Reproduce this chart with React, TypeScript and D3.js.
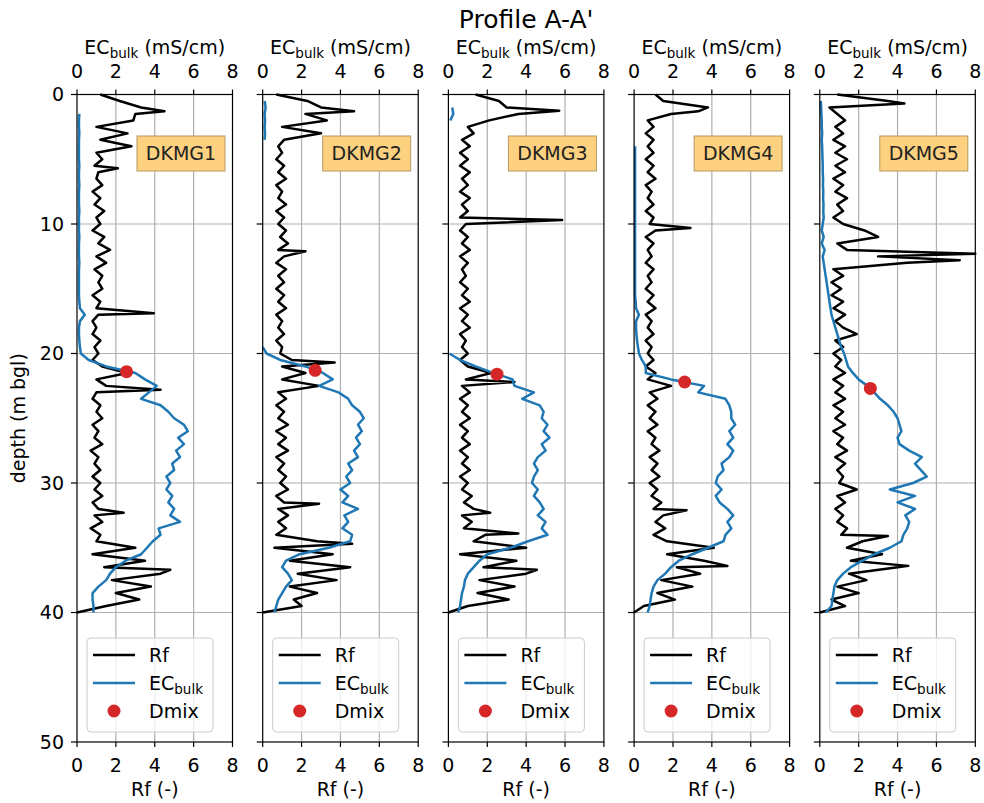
import React from 'react';
import * as d3 from 'd3';

// logs are read every 0.5 m from 0 to 40 m depth
const depthStep = 0.5;
const wells = ['DKMG1', 'DKMG2', 'DKMG3', 'DKMG4', 'DKMG5'];
const xTicks = [0, 2, 4, 6, 8];
const depthTicks = [0, 10, 20, 30, 40, 50];

const rf1 = [
  1.2, 2.2, 3.3, 3.0, 2.9, 1.0, 2.6, 1.2, 2.8, 1.0,
  1.3, 0.9, 1.1, 1.0, 1.3, 0.8, 1.2, 0.9, 1.4, 1.0,
  1.2, 0.8, 1.4, 1.1, 1.7, 1.0, 1.5, 0.9, 1.3, 1.1,
  1.3, 0.8, 1.2, 1.0, 1.1, 0.8, 1.0, 0.8, 1.2, 0.9,
  1.1, 0.8, 1.3, 2.6, 1.0, 1.5, 1.0, 0.8, 1.2, 1.0,
  1.3, 0.8, 1.1, 0.9, 1.3, 0.7, 1.1, 0.9, 1.2, 0.8,
  1.2, 0.9, 1.3, 0.8, 1.1, 0.9, 1.3, 0.7, 1.2, 1.0,
  3.0, 0.8, 3.5, 1.4, 4.3, 1.8, 3.8, 2.0, 3.2, 1.5,
  0.0,
];
const rfSpikes1 = [[1.3, 4.5], [5.7, 2.1], [16.9, 3.95], [22.8, 4.3], [32.3, 2.4], [36.7, 4.8]];
const ec1 = [
  null, null, null, 0.12, 0.1, 0.1, 0.12, 0.1, 0.1, 0.1,
  0.1, 0.12, 0.1, 0.1, 0.12, 0.1, 0.1, 0.1, 0.12, 0.1,
  0.1, 0.1, 0.12, 0.1, 0.1, 0.1, 0.12, 0.1, 0.1, 0.1,
  0.1, 0.1, 0.12, 0.15, 0.4, 0.15, 0.1, 0.1, 0.12, 0.15,
  0.2, 0.6, 1.5, 3.0, 3.5, 4.1, 3.7, 3.3, 4.3, 4.7,
  5.0, 5.5, 5.7, 5.2, 5.5, 5.1, 5.3, 4.9, 5.0, 4.6,
  4.8, 4.6, 4.9, 4.7, 5.0, 4.8, 5.3, 4.2, 4.3, 3.9,
  3.6, 3.3, 2.5, 2.0, 1.7, 1.5, 1.1, 0.8, 0.8, 0.85,
  0.85,
];

const rf2 = [
  0.7, 2.3, 3.0, 2.2, 3.3, 1.0, 3.0, 1.1, 0.8, 1.0,
  0.7, 1.1, 0.8, 1.2, 0.7, 1.0, 0.8, 1.2, 0.7, 1.1,
  0.8, 1.2, 0.9, 1.3, 0.8, 1.1, 0.7, 1.2, 0.8, 1.1,
  0.7, 1.1, 0.8, 1.2, 0.7, 1.0, 0.8, 1.1, 0.7, 1.0,
  0.9, 1.5, 1.0, 2.2, 1.0, 2.9, 0.8, 1.2, 0.7, 1.1,
  0.8, 1.3, 0.7, 1.2, 0.8, 1.3, 0.7, 1.1, 0.8, 1.2,
  0.9, 1.3, 0.7, 1.1, 0.8, 1.3, 0.8, 1.2, 0.7, 2.8,
  0.6, 3.6, 1.4, 4.5, 1.8, 3.8, 1.4, 2.8, 1.6, 2.0,
  0.0,
];
const rfSpikes2 = [[1.3, 4.7], [12.1, 2.2], [20.7, 3.7], [31.6, 2.9], [34.7, 4.6]];
const ec2 = [
  null, 0.1, 0.15, 0.1, 0.12, 0.1, 0.12, 0.1, null, null,
  null, null, null, null, null, null, null, null, null, null,
  null, null, null, null, null, null, null, null, null, null,
  null, null, null, null, null, null, null, null, null, 0.0,
  0.2, 0.9, 2.2, 3.1, 3.6, 2.9, 3.9, 4.4, 4.6, 5.0,
  5.2, 4.9, 5.1, 4.8, 5.0, 4.7, 4.9, 4.4, 4.6, 4.3,
  4.5, 4.0, 4.4, 4.1, 4.9, 4.2, 4.4, 4.1, 4.6, 4.5,
  3.4, 1.9, 1.2, 1.0, 1.3, 1.5, 1.2, 1.0, 0.8, 0.7,
  0.6,
];

const rf3 = [
  1.4, 2.6, 3.0, 3.6, 2.1, 1.0, 1.3, 0.7, 1.1, 0.6,
  1.0, 0.6, 1.1, 0.7, 1.0, 0.6, 1.1, 0.7, 1.0, 0.6,
  0.9, 0.6, 1.0, 0.7, 1.1, 0.6, 1.0, 0.7, 0.9, 0.6,
  1.0, 0.7, 1.1, 0.6, 1.0, 0.7, 1.1, 0.6, 0.9, 0.7,
  1.0, 0.6, 1.0, 2.2, 0.9, 0.7, 1.1, 0.6, 1.0, 0.7,
  1.1, 0.6, 1.0, 0.7, 1.1, 0.6, 1.0, 0.7, 1.1, 0.6,
  1.0, 0.7, 1.2, 0.8, 1.3, 0.7, 1.2, 0.8, 1.9, 1.3,
  4.0, 0.6, 3.5, 1.8, 4.0, 1.6, 3.4, 1.5, 3.1, 1.0,
  0.0,
];
const rfSpikes3 = [[1.25, 5.7], [9.7, 5.85], [22.2, 3.4], [32.3, 2.15], [33.9, 3.6], [36.7, 4.55]];
const ec3 = [
  null, null, 0.2, 0.25, 0.1, null, null, null, null, null,
  null, null, null, null, null, null, null, null, null, null,
  null, null, null, null, null, null, null, null, null, null,
  null, null, null, null, null, null, null, null, null, null,
  0.05, 0.6, 1.4, 2.3, 3.3, 3.4, 4.4, 3.8, 4.7, 4.9,
  4.8, 5.1, 4.9, 5.2, 4.8, 5.0, 4.6, 4.4, 4.6, 4.4,
  4.3, 4.6, 4.4, 4.7, 4.9, 4.6, 5.0, 4.8, 5.1, 4.1,
  3.2, 2.0, 1.6, 1.3, 1.0, 0.85, 0.8, 0.7, 0.65, 0.6,
  0.5,
];

const rf4 = [
  1.1, 1.5, 3.8, 1.9, 0.7, 1.0, 0.6, 1.0, 0.7, 1.0,
  0.6, 1.0, 0.7, 1.1, 0.6, 0.9, 0.7, 1.0, 0.6, 1.0,
  0.8, 1.1, 0.6, 1.0, 0.7, 0.9, 0.6, 1.0, 0.7, 0.9,
  0.6, 1.0, 0.7, 1.1, 0.6, 0.9, 0.7, 1.0, 0.6, 0.9,
  0.7, 1.0, 0.6, 1.1, 0.7, 1.9, 0.8, 1.2, 0.7, 1.1,
  0.8, 1.2, 0.7, 1.1, 0.9, 1.3, 0.8, 1.2, 0.9, 1.3,
  0.8, 1.2, 0.9, 1.4, 1.0, 1.5, 1.1, 1.6, 1.0, 1.7,
  4.1, 1.7, 3.6, 2.2, 3.4, 1.4, 3.0, 1.2, 2.1, 0.5,
  0.0,
];
const rfSpikes4 = [[1.3, 3.3], [10.3, 2.9], [32.1, 2.7], [36.4, 4.8]];
const ec4 = [
  null, null, null, null, null, null, null, null, 0.05, 0.05,
  0.05, 0.05, 0.05, 0.05, 0.05, 0.05, 0.05, 0.05, 0.05, 0.05,
  0.05, 0.05, 0.05, 0.05, 0.05, 0.05, 0.05, 0.05, 0.05, 0.05,
  0.05, 0.05, 0.08, 0.1, 0.25, 0.1, 0.1, 0.12, 0.15, 0.2,
  0.25, 0.4, 0.6, 0.6, 1.9, 3.6, 3.3, 4.7, 4.9, 5.0,
  5.0, 5.2, 4.9, 5.1, 4.8, 5.1, 4.9, 4.5, 4.6, 4.3,
  4.2, 4.5, 4.2, 4.4, 4.8, 5.1, 4.8, 5.0, 4.7, 4.6,
  3.8, 3.0, 2.3, 1.9, 1.6, 1.2, 1.0, 0.9, 0.85, 0.8,
  0.7,
];

const rf5 = [
  0.9, 3.5, 0.5, 0.9, 1.3, 0.8, 1.2, 0.7, 1.3, 0.8,
  1.4, 0.8, 1.3, 0.7, 1.2, 0.8, 1.4, 0.9, 1.2, 0.7,
  1.2, 2.3, 3.0, 0.9, 1.4, 3.0, 4.5, 0.7, 1.2, 0.6,
  1.1, 0.6, 1.2, 0.7, 1.3, 0.8, 1.2, 1.9, 0.8, 1.2,
  0.7, 1.1, 0.8, 1.3, 0.7, 1.2, 0.8, 1.3, 0.7, 1.2,
  0.8, 1.3, 0.7, 1.2, 0.9, 1.4, 0.8, 1.3, 0.9, 1.2,
  1.0, 1.9, 0.9, 1.3, 0.8, 1.2, 0.9, 1.4, 1.1, 2.2,
  1.4, 3.2, 1.6, 4.0, 1.5, 2.4, 0.9, 2.0, 0.6, 1.3,
  0.0,
];
const rfSpikes5 = [[0.7, 4.35], [12.3, 8.0], [12.8, 7.2], [34.1, 3.5], [36.4, 4.55]];
const ec5 = [
  null, 0.05, 0.07, 0.08, 0.1, 0.1, 0.12, 0.1, 0.12, 0.13,
  0.14, 0.15, 0.15, 0.17, 0.16, 0.18, 0.17, 0.19, 0.18, 0.2,
  0.15, 0.1, 0.2, 0.1, 0.25, 0.15, 0.2, 0.25, 0.3, 0.35,
  0.4, 0.45, 0.5, 0.55, 0.6, 0.7, 0.8, 0.9, 1.0, 1.1,
  1.25, 1.35, 1.45, 1.7, 2.0, 2.45, 2.8, 3.1, 3.5, 3.8,
  4.0, 4.1, 4.2, 4.0, 4.1, 4.6, 5.25, 4.9, 5.2, 5.5,
  4.8, 3.6, 4.9, 4.0, 4.9, 4.4, 4.6, 4.5, 4.3, 4.2,
  3.6, 2.8, 2.2, 1.6, 1.2, 0.9, 0.75, 0.7, 0.65, 0.6,
  0.3,
];

// Dmix: [EC value, depth]
const dmix = [[2.55, 21.4], [2.7, 21.3], [2.5, 21.6], [2.6, 22.2], [2.6, 22.7]];

const rfLogs = [rf1, rf2, rf3, rf4, rf5];
const rfSpikes = [rfSpikes1, rfSpikes2, rfSpikes3, rfSpikes4, rfSpikes5];
const ecLogs = [ec1, ec2, ec3, ec4, ec5];

const W = 984;
const H = 803;
const left0 = 77;
const gap = 185.7;
const panelW = 155.5;
const top = 94.5;
const bottom = 742;
const font = 'DejaVu Sans';
const blue = '#1f77b4';

type Pt = [number, number | null];

const toPoints = (vals: (number | null)[], extra: number[][] = []): Pt[] => {
  const pts: Pt[] = vals.map((v, i) => [i * depthStep, v] as Pt);
  extra.forEach(e => pts.push([e[0], e[1]]));
  return pts.sort((a, b) => a[0] - b[0]);
};

const Panel = ({ i, y }: { i: number; y: d3.ScaleLinear<number, number> }) => {
  const x0 = left0 + i * gap;
  const x = d3.scaleLinear().domain([0, 8]).range([x0, x0 + panelW]);
  const line = d3.line<Pt>()
    .defined(d => d[1] !== null)
    .x(d => x(d[1] as number))
    .y(d => y(d[0]));
  const rfPath = line(toPoints(rfLogs[i], rfSpikes[i])) || '';
  const ecPath = line(toPoints(ecLogs[i])) || '';
  const cx = x0 + panelW / 2;
  const lx = x0 + 10;

  return (
    <g>
      {/* grid */}
      {xTicks.slice(1, -1).map(t => (
        <line key={'gx' + t} x1={x(t)} x2={x(t)} y1={top} y2={bottom} stroke="#b0b0b0" strokeWidth={1.2} />
      ))}
      {depthTicks.slice(1, -1).map(t => (
        <line key={'gy' + t} x1={x0} x2={x0 + panelW} y1={y(t)} y2={y(t)} stroke="#b0b0b0" strokeWidth={1.2} />
      ))}

      <path d={rfPath} fill="none" stroke="#000" strokeWidth={2.5} strokeLinejoin="round" />
      <path d={ecPath} fill="none" stroke={blue} strokeWidth={2.5} strokeLinejoin="round" />
      <circle cx={x(dmix[i][0])} cy={y(dmix[i][1])} r={6.5} fill="#d62728" />

      {/* frame */}
      <rect x={x0} y={top} width={panelW} height={bottom - top} fill="none" stroke="#000" strokeWidth={1.2} />

      {/* ticks */}
      {xTicks.map(t => (
        <g key={'xt' + t}>
          <line x1={x(t)} x2={x(t)} y1={top} y2={top - 5} stroke="#000" strokeWidth={1.2} />
          <line x1={x(t)} x2={x(t)} y1={bottom} y2={bottom + 5} stroke="#000" strokeWidth={1.2} />
          <text x={x(t)} y={78} textAnchor="middle" fontSize={19} fontFamily={font}>{t}</text>
          <text x={x(t)} y={772} textAnchor="middle" fontSize={19} fontFamily={font}>{t}</text>
        </g>
      ))}
      {depthTicks.map(t => (
        <g key={'yt' + t}>
          <line x1={x0 - 6} x2={x0} y1={y(t)} y2={y(t)} stroke="#000" strokeWidth={1.2} />
          {i === 0 && (
            <text x={x0 - 13} y={y(t)} dy="0.35em" textAnchor="end" fontSize={19} fontFamily={font}>{t}</text>
          )}
        </g>
      ))}

      {/* axis labels */}
      <text x={cx} y={54} textAnchor="middle" fontSize={19} fontFamily={font}>
        EC<tspan fontSize={13.5} dy={4}>bulk</tspan><tspan dy={-4}>{'\u00a0(mS/cm)'}</tspan>
      </text>
      <text x={cx} y={796} textAnchor="middle" fontSize={19} fontFamily={font}>Rf (-)</text>

      {/* well label */}
      <rect x={x0 + 60} y={136} width={88} height={35} fill="#fdd17f" stroke="#b59a64" strokeWidth={1} />
      <text x={x0 + 104} y={160} textAnchor="middle" fontSize={19} fontFamily={font} fill="#222">{wells[i]}</text>

      {/* legend */}
      <rect x={lx} y={638} width={126} height={94} rx={4} fill="#fff" fillOpacity={0.8} stroke="#cccccc" strokeWidth={1} />
      <line x1={lx + 6} x2={lx + 48} y1={655} y2={655} stroke="#000" strokeWidth={2.5} />
      <text x={lx + 62} y={662} fontSize={19} fontFamily={font}>Rf</text>
      <line x1={lx + 6} x2={lx + 48} y1={683} y2={683} stroke={blue} strokeWidth={2.5} />
      <text x={lx + 62} y={690} fontSize={19} fontFamily={font}>
        EC<tspan fontSize={13.5} dy={4}>bulk</tspan>
      </text>
      <circle cx={lx + 27} cy={711} r={6.5} fill="#d62728" />
      <text x={lx + 62} y={718} fontSize={19} fontFamily={font}>Dmix</text>
    </g>
  );
};

export default function App() {
  const y = d3.scaleLinear().domain([0, 50]).range([top, bottom]);
  const midX = left0 + (4 * gap + panelW) / 2;
  return (
    <svg width={W} height={H} style={{ position: 'absolute', left: 0, top: 0, background: '#fff' }}>
      <rect width={W} height={H} fill="#fff" />
      <text x={midX} y={28} textAnchor="middle" fontSize={25} fontFamily={font}>Profile A-A'</text>
      <text transform={`translate(25, ${(top + bottom) / 2}) rotate(-90)`} textAnchor="middle" fontSize={19} fontFamily={font}>
        depth (m bgl)
      </text>
      {wells.map((w, i) => <Panel key={w} i={i} y={y} />)}
    </svg>
  );
}
